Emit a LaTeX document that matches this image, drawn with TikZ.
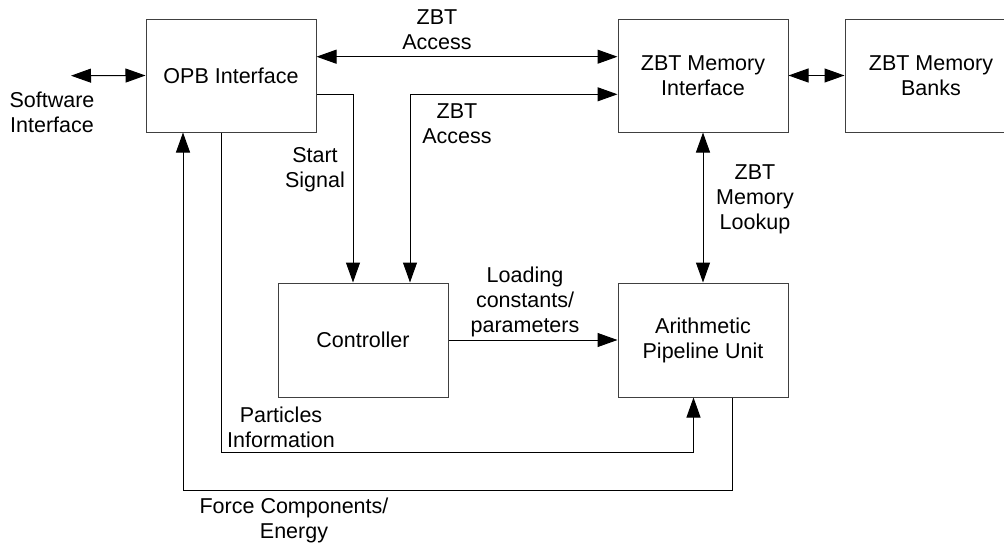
\documentclass[tikz,border=0pt]{standalone}
\usepackage{fontspec}
\setmainfont{Liberation Sans}
\usetikzlibrary{arrows.meta}
\begin{document}
\begin{tikzpicture}[x=1pt,y=-1pt,
  font=\fontsize{21.5}{25}\selectfont,
  block/.style={draw=black!75,line width=1pt,minimum width=170pt,minimum height=113pt,align=center,inner sep=0pt},
  lbl/.style={align=center,inner sep=0pt},
  conn/.style={line width=1pt,-{Triangle[length=20pt,width=14pt]}},
  biconn/.style={line width=1pt,{Triangle[length=20pt,width=14pt]}-{Triangle[length=20pt,width=14pt]}}]
\useasboundingbox (0,0) rectangle (1004,546);

% functional blocks
\node[block] (opb)   at (231,75.5) {OPB Interface};
\node[block] (zmi)   at (703,75.5) {ZBT Memory\\Interface};
\node[block,minimum width=172pt] (banks) at (931,75.5) {ZBT Memory\\Banks};
\node[block,minimum height=114pt] (ctrl)  at (363,340) {Controller};
\node[block,minimum height=114pt] (arith) at (703,340) {Arithmetic\\Pipeline Unit};

% routing levels
\coordinate (sw)  at (71,75.7);
\coordinate (ya)  at (0,56.7);
\coordinate (ys)  at (0,94.3);
\coordinate (yp)  at (0,452.7);
\coordinate (yf)  at (0,490.7);

% connections
\draw[biconn] (sw) -- (opb.west);
\draw[biconn] (opb.east |- ya) -- (zmi.west |- ya);
\draw[conn] (opb.east |- ys) -| ([xshift=-10pt]ctrl.north);
\draw[biconn] ([xshift=47pt]ctrl.north) |- (zmi.west |- ys);
\draw[biconn] (zmi.east) -- (banks.west);
\draw[biconn] (zmi.south) -- (arith.north);
\draw[conn] (ctrl.east) -- (arith.west);
\draw[conn] ([xshift=-10pt]opb.south) -- ([xshift=-10pt]opb.south |- yp) -| ([xshift=-9.5pt]arith.south);
\draw[conn] ([xshift=29pt]arith.south) -- ([xshift=29pt]arith.south |- yf) -| ([xshift=-48pt]opb.south);

% connector labels
\node[lbl] (lsw)  at (52,112.5)  {Software\\Interface};
\node[lbl] (lza)  at (437,30)    {ZBT\\Access};
\node[lbl] (lzb)  at (457,123.5) {ZBT\\Access};
\node[lbl] (lss)  at (315,170)   {Start\\Signal};
\node[lbl] (lzl)  at (755,199)   {ZBT\\Memory\\Lookup};
\node[lbl] (lld)  at (525,302)   {Loading\\constants/\\parameters};
\node[lbl] (lpi)  at (281,427)   {Particles\\Information};
\node[lbl] (lfc)  at (294,520)   {Force Components/\\Energy};
\end{tikzpicture}
\end{document}
